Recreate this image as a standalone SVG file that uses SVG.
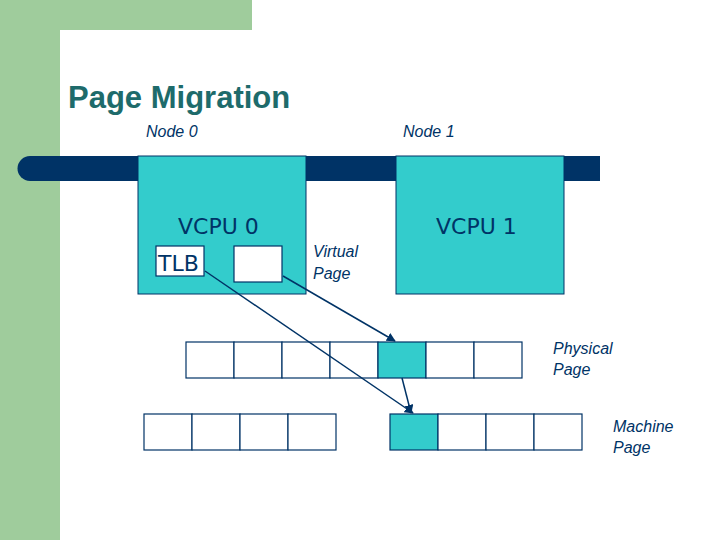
<svg xmlns="http://www.w3.org/2000/svg" width="720" height="540" viewBox="0 0 720 540">
<style>
.cell{fill:#fff;stroke:#003366;stroke-width:1.2}
.on{fill:#33CCCC}
.vc{fill:#33CCCC;stroke:#003366;stroke-width:1}
.lbl{font-family:"Liberation Sans",Arial,sans-serif;font-style:italic;font-size:16px;fill:#003366}
.big{font-family:"DejaVu Sans",sans-serif;font-size:22px;fill:#003366}
.ln{stroke:#003366;stroke-width:1.5;fill:none;marker-end:url(#ah)}
</style>
<defs><marker id="ah" viewBox="0 0 10 10" refX="9" refY="5" markerWidth="6" markerHeight="6" orient="auto"><path d="M0,0L10,5L0,10z" fill="#003366"/></marker></defs>
<rect width="720" height="540" fill="#fff"/>
<rect x="0" y="0" width="60" height="540" fill="#9FCC9C"/>
<rect x="0" y="0" width="252" height="30" fill="#9FCC9C"/>
<text x="68" y="108" font-family="Liberation Sans,Arial,sans-serif" font-weight="bold" font-size="31" fill="#1E6B6B">Page Migration</text>
<text class="lbl" x="146" y="137">Node 0</text>
<text class="lbl" x="403" y="137">Node 1</text>
<path d="M30,156H600V181H30A12.5,12.5 0 0 1 30,156Z" fill="#003366"/>
<g id="vcpu0"><rect class="vc" x="138" y="156" width="168" height="138"/><text class="big" x="178" y="234">VCPU 0</text></g>
<g id="tlb"><rect class="cell" x="156" y="246" width="48" height="30"/><text class="big" x="158" y="271">TLB</text></g>
<g id="vpage"><rect class="cell" x="234" y="246" width="48" height="36"/></g>
<g id="vcpu1"><rect class="vc" x="396" y="156" width="168" height="138"/><text class="big" x="436" y="234">VCPU 1</text></g>
<text class="lbl" x="313" y="257">Virtual</text><text class="lbl" x="313" y="279">Page</text>
<g id="physical">
<rect class="cell" x="186" y="342" width="48" height="36"/><rect class="cell" x="234" y="342" width="48" height="36"/><rect class="cell" x="282" y="342" width="48" height="36"/><rect class="cell" x="330" y="342" width="48" height="36"/><rect class="cell on" x="378" y="342" width="48" height="36"/><rect class="cell" x="426" y="342" width="48" height="36"/><rect class="cell" x="474" y="342" width="48" height="36"/>
</g>
<text class="lbl" x="553" y="354">Physical</text><text class="lbl" x="553" y="375">Page</text>
<g id="machine">
<rect class="cell" x="144" y="414" width="48" height="36"/><rect class="cell" x="192" y="414" width="48" height="36"/><rect class="cell" x="240" y="414" width="48" height="36"/><rect class="cell" x="288" y="414" width="48" height="36"/>
<rect class="cell on" x="390" y="414" width="48" height="36"/><rect class="cell" x="438" y="414" width="48" height="36"/><rect class="cell" x="486" y="414" width="48" height="36"/><rect class="cell" x="534" y="414" width="48" height="36"/>
</g>
<text class="lbl" x="613" y="432">Machine</text><text class="lbl" x="613" y="453">Page</text>
<g id="connectors">
<line class="ln" x1="283" y1="276" x2="395" y2="341"/>
<line class="ln" x1="205" y1="271" x2="413" y2="413"/>
<line class="ln" x1="402" y1="378" x2="411" y2="413"/>
</g>
</svg>
